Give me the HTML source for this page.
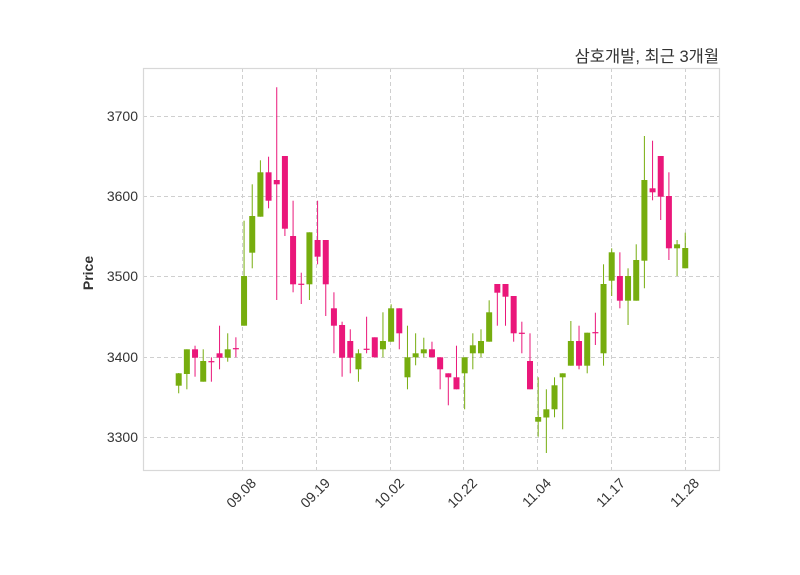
<!DOCTYPE html>
<html><head><meta charset="utf-8"><style>
html,body{margin:0;padding:0;background:#fff;}
svg{display:block;font-family:"Liberation Sans","Noto Sans CJK KR",sans-serif;}
</style></head><body>
<svg id="s" width="800" height="575" xmlns="http://www.w3.org/2000/svg">
<rect width="800" height="575" fill="#fff"/>
<g stroke="#cfcfcf" stroke-width="1" stroke-dasharray="4,3" fill="none">
<line x1="143" x2="720" y1="116.5" y2="116.5"/>
<line x1="143" x2="720" y1="196.5" y2="196.5"/>
<line x1="143" x2="720" y1="276.5" y2="276.5"/>
<line x1="143" x2="720" y1="357.5" y2="357.5"/>
<line x1="143" x2="720" y1="437.5" y2="437.5"/>
<line y1="68" y2="471" x1="242.5" x2="242.5"/>
<line y1="68" y2="471" x1="316.5" x2="316.5"/>
<line y1="68" y2="471" x1="390.5" x2="390.5"/>
<line y1="68" y2="471" x1="463.5" x2="463.5"/>
<line y1="68" y2="471" x1="537.5" x2="537.5"/>
<line y1="68" y2="471" x1="611.5" x2="611.5"/>
<line y1="68" y2="471" x1="685.5" x2="685.5"/>
</g>
<g id="c"></g>
<rect x="143.5" y="68.5" width="576" height="402" fill="none" stroke="#d8d8d8" stroke-width="1.2"/>
<g font-size="14" fill="#333" text-anchor="end">
<text x="138" y="121">3700</text>
<text x="138" y="201">3600</text>
<text x="138" y="281">3500</text>
<text x="138" y="362">3400</text>
<text x="138" y="442">3300</text>
</g>
<g font-size="14" fill="#333" text-anchor="end">
<text transform="translate(257,484) rotate(-45)">09.08</text>
<text transform="translate(331,484) rotate(-45)">09.19</text>
<text transform="translate(405,484) rotate(-45)">10.02</text>
<text transform="translate(478,484) rotate(-45)">10.22</text>
<text transform="translate(552,484) rotate(-45)">11.04</text>
<text transform="translate(626,484) rotate(-45)">11.17</text>
<text transform="translate(700,484) rotate(-45)">11.28</text>
</g>
<text transform="translate(93,273) rotate(-90)" font-size="14" font-weight="bold" fill="#333" text-anchor="middle">Price</text>
<text x="719" y="62" font-size="16.5" fill="#333" text-anchor="end">삼호개발, 최근 3개월</text>
</svg>
<script>
var G="#76ad0e",P="#ea177a";
var d=[
[1,373.3,385.7,373,393.3],[1,349.3,374,349.3,389.3],[0,349.3,357.7,345.7,376.7],[1,361,381.7,349.3,381.7],
[0,361.7,361.7,357.3,381.7],[0,353.3,357.7,325.7,369.3],[1,349.3,357.7,333.3,361.7],[0,348.7,348.7,337.3,357.3],
[1,276,325.7,220.7,325.7],[1,216,252.7,184.3,268.3],[1,172.3,216.7,160.3,216.7],[0,172.3,200.7,156.7,208.3],
[0,180,184.3,87.3,300],[0,156,228.7,156,236],[0,236,284.3,200.7,292.3],[0,284.3,284.3,272.7,304],
[1,232.3,284.3,232.3,300],[0,240,256.7,200.7,264.3],[0,240,284.3,240,316],[0,308.3,325.7,292.3,353.3],
[0,325,357.7,321.7,376.7],[0,341,357.7,329.3,373.3],[1,353.3,369.3,349.3,381.7],[0,349.3,349.3,316.7,353.3],
[0,337.3,357.3,337.3,357.3],[1,341,349.3,312.3,357.3],[1,308.3,341.7,304.3,341.7],[0,308.3,333.3,308.3,349.3],
[1,357.3,377.3,325.7,389.3],[1,353.3,357.3,333.3,365.3],[1,349.3,353.3,337.7,357.3],[0,349.3,357.3,341.7,357.3],
[0,357.3,369.3,357.3,389.3],[0,373.3,377.3,373.3,405.3],[0,377.3,389.3,345.7,389.3],[1,357.3,373.3,357.3,409.3],
[1,345.3,353.3,333.3,369.3],[1,341,353.3,329.3,357.3],[1,312.3,341.7,300.3,341.7],[0,284,292.7,284,325.7],
[0,284,296.7,284,325.7],[0,296,333.3,296,341.7],[0,333.3,333.3,321.7,353.3],[0,361,389.3,333.3,389.3],
[1,417,421.7,377.3,436.7],[1,409.3,417.5,389.3,453],[1,385.3,409.3,377.3,417.3],[1,373.3,377.3,373.3,429.3],
[1,341,365.7,321,365.7],[0,341,365.7,325.7,369.3],[1,332.7,365.7,332.7,373.3],[0,332.7,332.7,312.7,345],
[1,284,353.3,264.3,365.7],[1,252.3,280.7,248.3,296],[0,276,300.7,252.3,308.3],[1,276,300.7,268.3,325],
[1,260,300.7,244.3,300.7],[1,180,260.7,136,288.3],[0,188.3,192.3,140.7,200.3],[0,156,196.7,156,220],
[0,196,248.3,172.3,260],[1,244.3,248.3,240,276],[1,248,268.3,232.7,268.3]];
var s="";
d.forEach(function(c,i){var x=178.7+8.17*i,col=c[0]?G:P;
s+='<line x1="'+x+'" x2="'+x+'" y1="'+c[3]+'" y2="'+c[4]+'" stroke="'+col+'" stroke-width="1"/>';
var h=Math.max(c[2]-c[1],1.2);
s+='<rect x="'+(x-3)+'" y="'+(c[1]-(c[2]==c[1]?0.6:0))+'" width="6" height="'+h+'" fill="'+col+'"/>';});
document.getElementById("c").innerHTML=s;
</script>
</body></html>
